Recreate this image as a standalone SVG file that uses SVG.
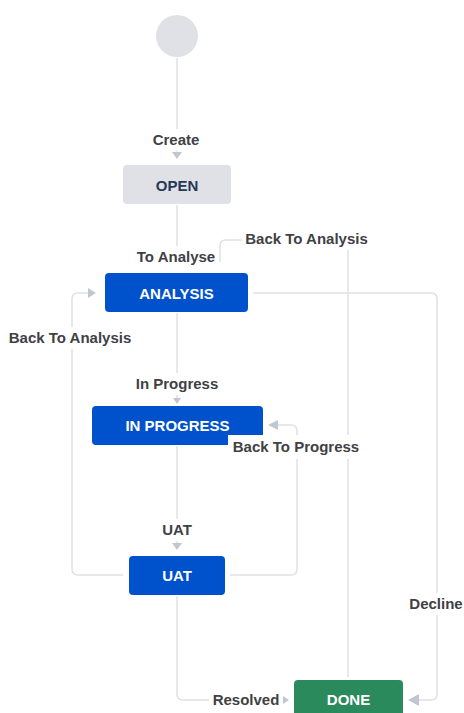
<svg xmlns="http://www.w3.org/2000/svg" width="464" height="713" viewBox="0 0 464 713">
<style>
.ln{fill:none;stroke:#dfe1e6;stroke-width:1.5}
.ah{fill:#c1c7d0}
.lbg{fill:#ffffff}
.lbl{font-family:"Liberation Sans",Arial,sans-serif;font-weight:bold;font-size:15px;fill:#3f4145;text-anchor:middle}
.nt{font-family:"Liberation Sans",Arial,sans-serif;font-weight:bold;font-size:15px;text-anchor:middle}
</style>
<rect width="464" height="713" fill="#ffffff"/>
<g id="connectors">
<path class="ln" d="M177 58 V152"/>
<polygon class="ah" points="172,152 182,152 177,159"/>
<path class="ln" d="M177 205 V250"/>
<path class="ln" d="M177 313 V398"/>
<polygon class="ah" points="173,398 181,398 177,404"/>
<path class="ln" d="M177 446 V543"/>
<polygon class="ah" points="172,543 182,543 177,550"/>
<path class="ln" d="M177 596 V694 Q177 700 183 700 H283"/>
<polygon class="ah" points="283,696 283,704 289,700"/>
<path class="ln" d="M123 575 H78 Q72 575 72 569 V299 Q72 293 78 293 H88"/>
<polygon class="ah" points="88,288 88,298 96,293"/>
<path class="ln" d="M230 575 H291 Q297 575 297 569 V431 Q297 425 291 425 H278"/>
<polygon class="ah" points="278,420 278,430 268,425"/>
<path class="ln" d="M253 293 H431 Q437 293 437 299 V694 Q437 700 431 700 H419"/>
<polygon class="ah" points="419,694 419,706 408,700"/>
<path class="ln" d="M348 677 V246 Q348 240 342 240 H226 Q220 240 220 246 V262"/>
</g>
<g id="start"><circle cx="177" cy="36" r="21" fill="#dfe1e6"/></g>
<g id="open">
<rect x="123" y="165" width="108" height="39" rx="4" fill="#dfe1e6"/>
<text class="nt" x="177" y="190.5" fill="#253858">OPEN</text>
</g>
<g id="analysis">
<rect x="105" y="273" width="143" height="39" rx="4" fill="#0052cc"/>
<text class="nt" x="176.5" y="298.5" fill="#ffffff">ANALYSIS</text>
</g>
<g id="inprogress">
<rect x="92" y="406" width="171" height="39" rx="4" fill="#0052cc"/>
<text class="nt" x="177.5" y="431" fill="#ffffff">IN PROGRESS</text>
</g>
<g id="uat">
<rect x="129" y="556" width="96" height="39" rx="4" fill="#0052cc"/>
<text class="nt" x="177" y="581" fill="#ffffff">UAT</text>
</g>
<g id="done">
<rect x="294" y="680" width="109" height="40" rx="4" fill="#2b8a5c"/>
<text class="nt" x="348.5" y="705" fill="#ffffff">DONE</text>
</g>
<g id="labels">
<rect class="lbg" x="150" y="129" width="54" height="22"/>
<text class="lbl" x="176" y="145">Create</text>
<rect class="lbg" x="133" y="246" width="85" height="22"/>
<text class="lbl" x="176" y="262">To Analyse</text>
<rect class="lbg" x="242" y="228" width="130" height="22"/>
<text class="lbl" x="306.5" y="244">Back To Analysis</text>
<rect class="lbg" x="5" y="327" width="130" height="22"/>
<text class="lbl" x="70" y="343">Back To Analysis</text>
<rect class="lbg" x="133" y="373" width="88" height="22"/>
<text class="lbl" x="177" y="389">In Progress</text>
<rect class="lbg" x="228" y="435" width="136" height="24"/>
<text class="lbl" x="296" y="452">Back To Progress</text>
<rect class="lbg" x="160" y="519" width="34" height="22"/>
<text class="lbl" x="177" y="535">UAT</text>
<rect class="lbg" x="407" y="593" width="57" height="22"/>
<text class="lbl" x="436" y="609">Decline</text>
<rect class="lbg" x="209" y="689" width="74" height="22"/>
<text class="lbl" x="246" y="705">Resolved</text>
</g>
</svg>
